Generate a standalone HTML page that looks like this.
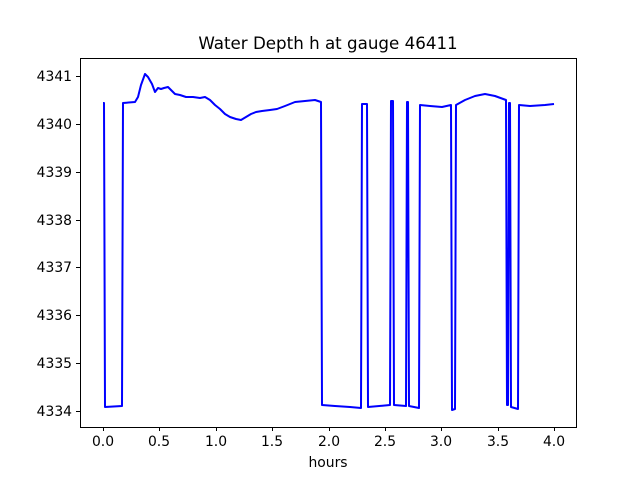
<!DOCTYPE html>
<html><head><style>body{margin:0;background:#fff}svg{display:block}</style></head><body>
<svg width="640" height="480" viewBox="0 0 640 480" xmlns="http://www.w3.org/2000/svg" font-family="DejaVu Sans, Liberation Sans, sans-serif">
<rect width="640" height="480" fill="#fff"/>
<text x="328" y="49" font-size="16.7" text-anchor="middle">Water Depth h at gauge 46411</text>
<polyline fill="none" stroke="#0000ff" stroke-width="2" stroke-linejoin="round" points="103,103 104,103 105,407 122,406 123,103 135,102 138,97 141,85 145,74 148,77 152,84 155,92 158,88 161,89 164,88 168,87 171,90 175,94 180,95 186,97 193,97 200,98 205,97 210,100 215,105 220,109 225,114 230,117 236,119 241,120 246,117 251,114 256,112 262,111 270,110 277,109 285,106 295,102 305,101 315,100 321,102 322,405 335,406 350,407 361,408 362,104 367,104 368,407 390,405 391,101 393,101 394,405 406,406 407,102 408,102 409,406 419,408 420,105 430,106 442,107 451,105 452,410 455,409 456,105 465,100 475,96 485,94 495,96 506,100 507,405 508,405 509,103 510,103 511,407 518,409 519,105 530,106 545,105 554,104"/>
<rect x="80.5" y="58.5" width="496" height="369" fill="none" stroke="#000" stroke-width="1"/>
<g stroke="#000" stroke-width="1">
<line x1="103.5" y1="427" x2="103.5" y2="431"/><line x1="159.5" y1="427" x2="159.5" y2="431"/><line x1="216.5" y1="427" x2="216.5" y2="431"/><line x1="272.5" y1="427" x2="272.5" y2="431"/><line x1="329.5" y1="427" x2="329.5" y2="431"/><line x1="385.5" y1="427" x2="385.5" y2="431"/><line x1="441.5" y1="427" x2="441.5" y2="431"/><line x1="498.5" y1="427" x2="498.5" y2="431"/><line x1="554.5" y1="427" x2="554.5" y2="431"/>
<line x1="76" y1="76.5" x2="80" y2="76.5"/><line x1="76" y1="124.5" x2="80" y2="124.5"/><line x1="76" y1="172.5" x2="80" y2="172.5"/><line x1="76" y1="220.5" x2="80" y2="220.5"/><line x1="76" y1="267.5" x2="80" y2="267.5"/><line x1="76" y1="315.5" x2="80" y2="315.5"/><line x1="76" y1="363.5" x2="80" y2="363.5"/><line x1="76" y1="411.5" x2="80" y2="411.5"/>
</g>
<g font-size="13.9" text-anchor="middle">
<text x="103" y="446">0.0</text><text x="159" y="446">0.5</text><text x="216" y="446">1.0</text><text x="272" y="446">1.5</text><text x="329" y="446">2.0</text><text x="385" y="446">2.5</text><text x="441" y="446">3.0</text><text x="498" y="446">3.5</text><text x="554" y="446">4.0</text>
<text x="328" y="467">hours</text>
</g>
<g font-size="13.9" text-anchor="end">
<text x="72" y="81">4341</text><text x="72" y="129">4340</text><text x="72" y="177">4339</text><text x="72" y="225">4338</text><text x="72" y="272">4337</text><text x="72" y="320">4336</text><text x="72" y="368">4335</text><text x="72" y="416">4334</text>
</g>
</svg>
</body></html>
